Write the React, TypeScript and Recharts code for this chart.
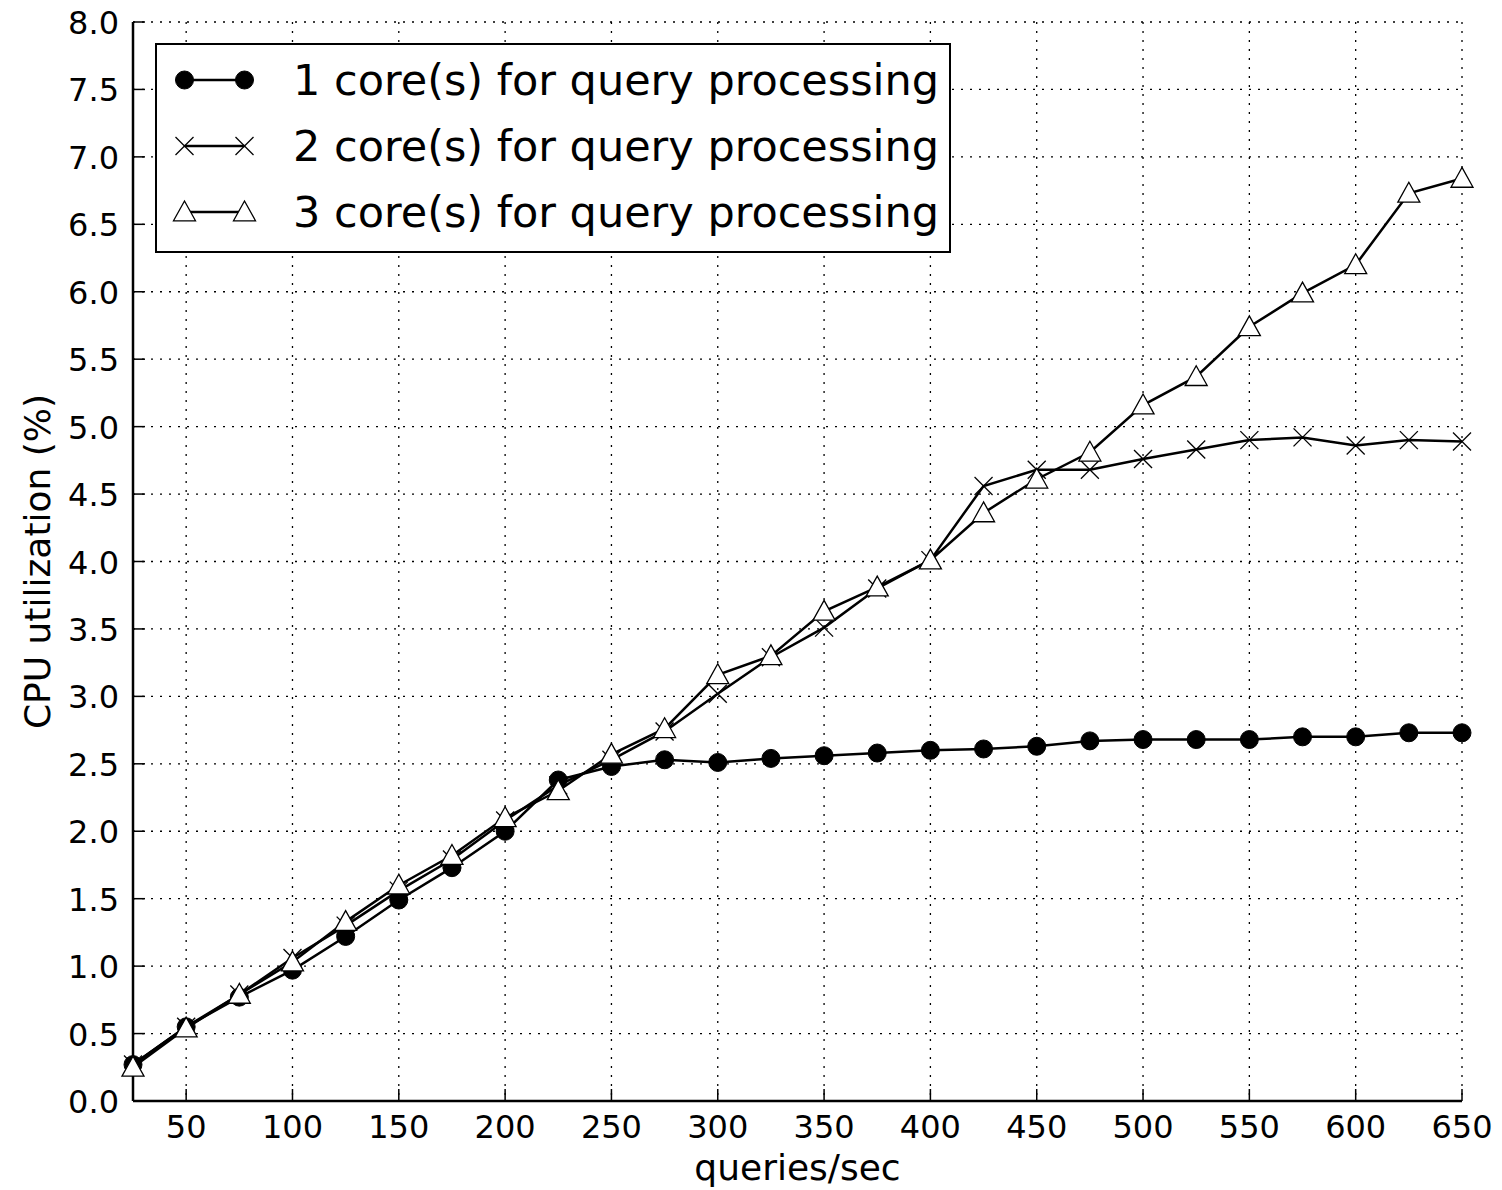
import { LineChart, Line, XAxis, YAxis, CartesianGrid, Legend } from 'recharts';

const queriesPerSec = [25, 50, 75, 100, 125, 150, 175, 200, 225, 250, 275, 300, 325, 350, 375, 400, 425, 450, 475, 500, 525, 550, 575, 600, 625, 650];
const oneCore = [0.27, 0.55, 0.77, 0.97, 1.22, 1.49, 1.73, 2.0, 2.38, 2.48, 2.53, 2.51, 2.54, 2.56, 2.58, 2.6, 2.61, 2.63, 2.67, 2.68, 2.68, 2.68, 2.7, 2.7, 2.73, 2.73];
const twoCores = [0.27, 0.55, 0.79, 1.06, 1.3, 1.56, 1.79, 2.08, 2.34, 2.53, 2.74, 3.02, 3.29, 3.51, 3.8, 4.01, 4.56, 4.68, 4.68, 4.76, 4.83, 4.9, 4.92, 4.86, 4.9, 4.89];
const threeCores = [0.25, 0.54, 0.79, 1.03, 1.33, 1.6, 1.82, 2.1, 2.3, 2.57, 2.76, 3.16, 3.3, 3.63, 3.81, 4.01, 4.36, 4.61, 4.81, 5.16, 5.37, 5.74, 5.99, 6.2, 6.73, 6.84];

const xTicks = [50, 100, 150, 200, 250, 300, 350, 400, 450, 500, 550, 600, 650];
const yTicks = [0, 0.5, 1, 1.5, 2, 2.5, 3, 3.5, 4, 4.5, 5, 5.5, 6, 6.5, 7, 7.5, 8];

const seriesNames = [
  '1 core(s) for query processing',
  '2 core(s) for query processing',
  '3 core(s) for query processing',
];
const seriesKeys = ['one', 'two', 'three'];
const markerKinds = ['circle', 'cross', 'triangle'];

const data = queriesPerSec.map((x, i) => ({
  x,
  one: oneCore[i],
  two: twoCores[i],
  three: threeCores[i],
}));

const FONT = '"DejaVu Sans", sans-serif';

function Marker({ kind, cx, cy }: { kind: string; cx: number; cy: number }) {
  if (kind === 'circle') {
    return <circle cx={cx} cy={cy} r={9} fill="#000" stroke="#000" strokeWidth={1} />;
  }
  if (kind === 'cross') {
    const s = 9;
    return (
      <g stroke="#000" strokeWidth={1.3}>
        <line x1={cx - s} y1={cy - s} x2={cx + s} y2={cy + s} />
        <line x1={cx - s} y1={cy + s} x2={cx + s} y2={cy - s} />
      </g>
    );
  }
  const h = 11;
  return (
    <polygon
      points={`${cx},${cy - h} ${cx - h},${cy + h * 0.8} ${cx + h},${cy + h * 0.8}`}
      fill="#fff"
      stroke="#000"
      strokeWidth={1.3}
    />
  );
}

const BottomTick = (props: any) => {
  const { x, y, payload } = props;
  return (
    <g>
      <line x1={x} y1={y} x2={x} y2={y - 12} stroke="#000" strokeWidth={1.5} />
      <text x={x} y={y + 37} textAnchor="middle" fontSize={32} fontFamily={FONT} fill="#000">
        {payload.value}
      </text>
    </g>
  );
};

const LeftTick = (props: any) => {
  const { x, y, payload } = props;
  return (
    <g>
      <line x1={x} y1={y} x2={x + 12} y2={y} stroke="#000" strokeWidth={1.5} />
      <text x={x - 14} y={y + 12} textAnchor="end" fontSize={32} fontFamily={FONT} fill="#000">
        {Number(payload.value).toFixed(1)}
      </text>
    </g>
  );
};

const TopTick = (props: any) => {
  const { x, y } = props;
  return <line x1={x} y1={y} x2={x} y2={y + 12} stroke="#000" strokeWidth={1.5} />;
};

const RightTick = (props: any) => {
  const { x, y } = props;
  return <line x1={x} y1={y} x2={x - 12} y2={y} stroke="#000" strokeWidth={1.5} />;
};

const YLabel = (props: any) => {
  const vb = props.viewBox;
  const cx = vb.x + 50;
  const cy = vb.y + vb.height / 2;
  return (
    <text x={cx} y={cy} transform={`rotate(-90, ${cx}, ${cy})`} textAnchor="middle" fontSize={36} fontFamily={FONT} fill="#000">
      CPU utilization (%)
    </text>
  );
};

const XLabel = (props: any) => {
  const vb = props.viewBox;
  return (
    <text x={vb.x + vb.width / 2} y={vb.y + 79} textAnchor="middle" fontSize={36} fontFamily={FONT} fill="#000">
      queries/sec
    </text>
  );
};

const LegendBox = () => (
  <div
    style={{
      width: 796,
      height: 210,
      boxSizing: 'border-box',
      border: '2.5px solid #000',
      background: '#fff',
      padding: '2px 0 5px',
      fontFamily: FONT,
      fontSize: 43,
      color: '#000',
    }}
  >
    {seriesNames.map((name, i) => (
      <div key={name} style={{ display: 'flex', alignItems: 'center', height: 66 }}>
        <svg width={136} height={66} style={{ flex: 'none' }}>
          <line x1={27.5} y1={33} x2={87.5} y2={33} stroke="#000" strokeWidth={2.5} />
          <Marker kind={markerKinds[i]} cx={27.5} cy={33} />
          <Marker kind={markerKinds[i]} cx={87.5} cy={33} />
        </svg>
        <span style={{ whiteSpace: 'nowrap', lineHeight: '66px' }}>{name}</span>
      </div>
    ))}
  </div>
);

export default function App() {
  return (
    <div style={{ position: 'absolute', left: 0, top: 0, background: '#fff' }}>
      <LineChart width={1502} height={1190} data={data} margin={{ top: 22, right: 40, left: 0, bottom: 0 }}>
        <CartesianGrid stroke="#000" strokeWidth={1.3} strokeDasharray="2 7" />
        <XAxis
          dataKey="x"
          type="number"
          domain={[25, 650]}
          ticks={xTicks}
          interval={0}
          height={89}
          tickSize={0}
          tickMargin={0}
          tick={BottomTick}
          axisLine={{ stroke: '#000', strokeWidth: 2.5 }}
          label={<XLabel />}
        />
        <XAxis
          xAxisId="top"
          orientation="top"
          dataKey="x"
          type="number"
          domain={[25, 650]}
          ticks={xTicks}
          interval={0}
          height={0}
          tickSize={0}
          tickMargin={0}
          tick={TopTick}
          axisLine={{ stroke: '#000', strokeWidth: 2.5 }}
        />
        <YAxis
          type="number"
          domain={[0, 8]}
          ticks={yTicks}
          interval={0}
          width={133}
          tickSize={0}
          tickMargin={0}
          tick={LeftTick}
          axisLine={{ stroke: '#000', strokeWidth: 2.5 }}
          label={<YLabel />}
        />
        <YAxis
          yAxisId="right"
          orientation="right"
          type="number"
          domain={[0, 8]}
          ticks={yTicks}
          interval={0}
          width={0}
          tickSize={0}
          tickMargin={0}
          tick={RightTick}
          axisLine={{ stroke: '#000', strokeWidth: 2.5 }}
        />
        <Legend
          layout="vertical"
          align="center"
          verticalAlign="middle"
          content={LegendBox}
          wrapperStyle={{ left: 155, top: 43, width: 'auto', height: 'auto' }}
        />
        {seriesKeys.map((key, i) => (
          <Line
            key={key}
            dataKey={key}
            name={seriesNames[i]}
            type="linear"
            stroke="#000"
            strokeWidth={2.5}
            isAnimationActive={false}
            dot={(p: any) => <Marker key={`${key}-${p.index}`} kind={markerKinds[i]} cx={p.cx} cy={p.cy} />}
            activeDot={false}
          />
        ))}
      </LineChart>
    </div>
  );
}
